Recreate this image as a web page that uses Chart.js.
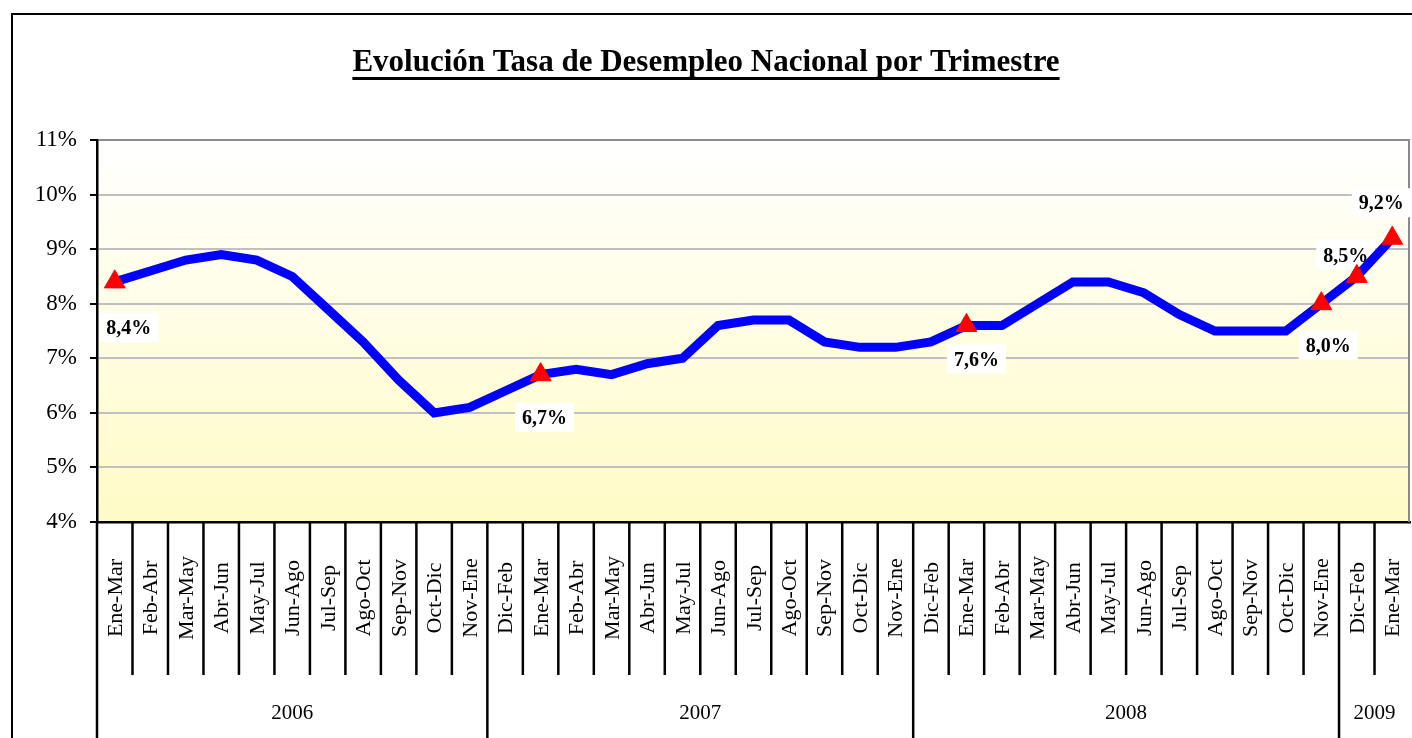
<!DOCTYPE html>
<html>
<head>
<meta charset="utf-8">
<script src="https://cdn.jsdelivr.net/npm/chart.js"></script>
<style>
  body { margin: 0; background: #fff; overflow: hidden; }
  .cadre { position: relative; width: 1412px; height: 738px; }
</style>
</head>
<body>
<div class="cadre"><canvas id="grafico"></canvas></div>
<script>
const titulo = 'Evolución Tasa de Desempleo Nacional por Trimestre';

const trimestres = [
  'Ene-Mar', 'Feb-Abr', 'Mar-May', 'Abr-Jun', 'May-Jul', 'Jun-Ago', 'Jul-Sep', 'Ago-Oct', 'Sep-Nov', 'Oct-Dic', 'Nov-Ene',
  'Dic-Feb', 'Ene-Mar', 'Feb-Abr', 'Mar-May', 'Abr-Jun', 'May-Jul', 'Jun-Ago', 'Jul-Sep', 'Ago-Oct', 'Sep-Nov', 'Oct-Dic', 'Nov-Ene',
  'Dic-Feb', 'Ene-Mar', 'Feb-Abr', 'Mar-May', 'Abr-Jun', 'May-Jul', 'Jun-Ago', 'Jul-Sep', 'Ago-Oct', 'Sep-Nov', 'Oct-Dic', 'Nov-Ene',
  'Dic-Feb', 'Ene-Mar'
];
const anios = ['2006', '2007', '2008', '2009'];
const trimestresPorAnio = [11, 12, 12, 2];

const tasa2006 = [8.4, 8.6, 8.8, 8.9, 8.8, 8.5, 7.9, 7.3, 6.6, 6.0, 6.1];
const tasa2007 = [6.4, 6.7, 6.8, 6.7, 6.9, 7.0, 7.6, 7.7, 7.7, 7.3, 7.2, 7.2];
const tasa2008 = [7.3, 7.6, 7.6, 8.0, 8.4, 8.4, 8.2, 7.8, 7.5, 7.5, 7.5, 8.0];
const tasa2009 = [8.5, 9.2];
const tasa = [...tasa2006, ...tasa2007, ...tasa2008, ...tasa2009];

// puntos con triangulo y etiqueta
const marcados = [0, 12, 24, 34, 35, 36];
const ejeYMin = 4;
const ejeYMax = 11;

// desplazamiento de cada etiqueta respecto al punto (px)
const posEtiquetas = { 0: [14, 46], 12: [4, 43], 24: [10, 34], 34: [7, 42], 35: [-11, -21], 36: [-11, -35] };

const serif = '"Liberation Serif", "Times New Roman", serif';

function formato(v) {
  return v.toFixed(1).replace('.', ',') + '%';
}

const decorado = {
  id: 'decorado',
  beforeDraw(chart) {
    const { ctx, chartArea: a } = chart;
    ctx.save();
    const g = ctx.createLinearGradient(0, a.top, 0, a.bottom);
    g.addColorStop(0, '#ffffff');
    g.addColorStop(1, '#fffbc6');
    ctx.fillStyle = g;
    ctx.fillRect(a.left, a.top, a.right - a.left, a.bottom - a.top);

    // marco exterior
    ctx.strokeStyle = '#000';
    ctx.lineWidth = 2;
    ctx.beginPath();
    ctx.moveTo(12, chart.height);
    ctx.lineTo(12, 14);
    ctx.lineTo(chart.width, 14);
    ctx.stroke();

    // titulo subrayado
    ctx.font = 'bold 31px ' + serif;
    ctx.fillStyle = '#000';
    ctx.textAlign = 'center';
    ctx.textBaseline = 'alphabetic';
    const cx = chart.width / 2;
    ctx.fillText(titulo, cx, 71);
    const w = ctx.measureText(titulo).width;
    ctx.fillRect(cx - w / 2, 77, w, 3);
    ctx.restore();
  },
  beforeDatasetsDraw(chart) {
    const { ctx, chartArea: a } = chart;
    ctx.save();
    ctx.strokeStyle = '#8a8a8a';
    ctx.lineWidth = 2;
    ctx.beginPath();
    ctx.moveTo(a.right - 1, a.top);
    ctx.lineTo(a.right - 1, a.bottom);
    ctx.stroke();

    const meta = chart.getDatasetMeta(0);
    ctx.font = 'bold 20px ' + serif;
    ctx.textAlign = 'center';
    ctx.textBaseline = 'middle';
    marcados.forEach(i => {
      const p = meta.data[i];
      const [dx, dy] = posEtiquetas[i];
      const txt = formato(tasa[i]);
      const tw = ctx.measureText(txt).width;
      const x = p.x + dx, y = p.y + dy;
      ctx.fillStyle = '#fff';
      ctx.fillRect(x - tw / 2 - 7, y - 15, tw + 14, 29);
      ctx.fillStyle = '#000';
      ctx.fillText(txt, x, y + 1);
    });
    ctx.restore();
  },
  afterDraw(chart) {
    const { ctx, chartArea: a } = chart;
    const xs = chart.scales.x;
    ctx.save();
    ctx.strokeStyle = '#000';
    ctx.lineWidth = 2.5;

    const finAnio = [];
    let acc = 0;
    trimestresPorAnio.forEach(n => { acc += n; finAnio.push(acc); });

    ctx.beginPath();
    ctx.moveTo(a.left, a.bottom);
    ctx.lineTo(a.left, chart.height);
    for (let i = 1; i < trimestres.length; i++) {
      const x = (xs.getPixelForValue(i - 1) + xs.getPixelForValue(i)) / 2;
      ctx.moveTo(x, a.bottom);
      ctx.lineTo(x, finAnio.includes(i) ? chart.height : 675);
    }
    ctx.stroke();

    // etiquetas de trimestre
    ctx.fillStyle = '#000';
    ctx.font = '22px ' + serif;
    ctx.textAlign = 'center';
    ctx.textBaseline = 'alphabetic';
    trimestres.forEach((t, i) => {
      ctx.save();
      ctx.translate(xs.getPixelForValue(i), 598);
      ctx.rotate(-Math.PI / 2);
      ctx.fillText(t, 0, 7);
      ctx.restore();
    });

    // etiquetas de año
    ctx.font = '21px ' + serif;
    ctx.textBaseline = 'middle';
    let ini = 0;
    anios.forEach((an, k) => {
      const fin = ini + trimestresPorAnio[k];
      const x0 = (ini === 0) ? a.left : (xs.getPixelForValue(ini - 1) + xs.getPixelForValue(ini)) / 2;
      const x1 = (fin >= trimestres.length) ? a.right : (xs.getPixelForValue(fin - 1) + xs.getPixelForValue(fin)) / 2;
      ctx.fillText(an, (x0 + x1) / 2, 713);
      ini = fin;
    });
    ctx.restore();
  }
};

new Chart(document.getElementById('grafico'), {
  type: 'line',
  data: {
    labels: trimestres,
    datasets: [{
      label: 'Tasa de desempleo',
      data: tasa,
      borderColor: '#0000ff',
      borderWidth: 9,
      tension: 0,
      fill: false,
      clip: false,
      pointStyle: 'triangle',
      pointRadius: ctx => marcados.includes(ctx.dataIndex) ? 12 : 0,
      pointHoverRadius: ctx => marcados.includes(ctx.dataIndex) ? 12 : 0,
      pointBackgroundColor: '#ff0000',
      pointBorderColor: '#ff0000',
      pointBorderWidth: 1
    }]
  },
  options: {
    responsive: true,
    maintainAspectRatio: false,
    animation: false,
    layout: { autoPadding: false, padding: { top: 140, right: 2, left: 0, bottom: 0 } },
    plugins: {
      legend: { display: false },
      tooltip: { enabled: false },
      title: { display: false }
    },
    scales: {
      x: {
        offset: true,
        grid: { display: false },
        border: { color: '#000', width: 2.5 },
        ticks: { display: false },
        afterFit: s => { s.height = 216; }
      },
      y: {
        min: ejeYMin,
        max: ejeYMax,
        grid: {
          color: ctx => (ctx.tick && ctx.tick.value === ejeYMax) ? '#8a8a8a' : '#c0c0c0',
          lineWidth: 2,
          tickColor: '#000',
          tickLength: 7,
          tickWidth: 2
        },
        border: { color: '#000', width: 2.5 },
        ticks: {
          stepSize: 1,
          padding: 13,
          color: '#000',
          font: { family: serif, size: 23 },
          callback: v => v + '%'
        },
        afterFit: s => { s.width = 97; }
      }
    }
  },
  plugins: [decorado]
});
</script>
</body>
</html>
